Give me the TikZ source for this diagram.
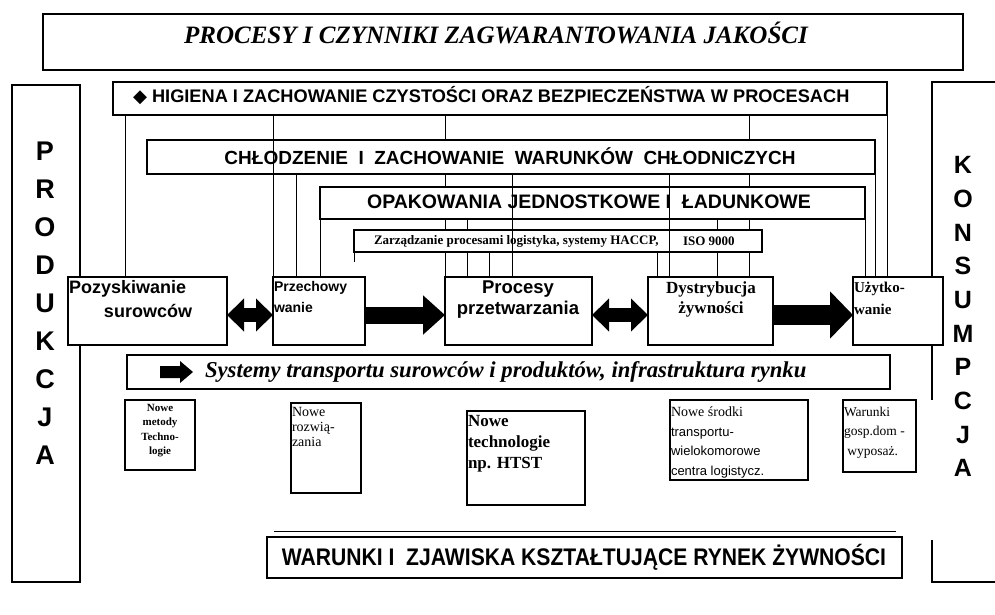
\documentclass[tikz,border=0pt]{standalone}
\usepackage{fontspec}
\setmainfont{Liberation Serif}
\setsansfont{Liberation Sans}
\newfontfamily\dejavu{DejaVu Sans}
\usepackage{graphicx}
\usetikzlibrary{arrows.meta}
\pgfdeclarelayer{bg}
\pgfsetlayers{bg,main}
\tikzset{
  box/.style={draw, line width=1.3pt, fill=white, inner sep=0pt, outer sep=0pt, anchor=north west},
  conn/.style={line width=1pt},
  lbl/.style={inner sep=0pt, outer sep=0pt},
  sfb/.style={font=\sffamily\bfseries\fontsize{#1}{#1}\selectfont},
  rmb/.style={font=\rmfamily\bfseries\fontsize{#1}{#1}\selectfont},
}
\begin{document}
\begin{tikzpicture}[x=1pt,y=-1pt]
\useasboundingbox (0,0) rectangle (995,614);

% side frames
\node[box, minimum width=68pt, minimum height=497pt] (prod) at (12,85) {};
\coordinate (konsA) at (1000,82);
\coordinate (konsB) at (932,82);
\coordinate (konsC) at (932,400);
\coordinate (konsD) at (932,540);
\coordinate (konsE) at (932,582);
\coordinate (konsF) at (1000,582);
\draw[line width=1.3pt] (konsA) -- (konsB) -- (konsC);
\draw[line width=1.3pt] (konsD) -- (konsE) -- (konsF);
\foreach \l [count=\i] in {P,R,O,D,U,K,C,J,A}
  \node[lbl, sfb=27] (prodl\i) at (45,{151+(\i-1)*38}) {\l};
\foreach \l [count=\i] in {K,O,N,S,U,M,P,C,J,A}
  \node[lbl, sfb=25] (konsl\i) at (963,{165+(\i-1)*33.7}) {\l};

% title
\node[box, minimum width=920pt, minimum height=56pt] (title) at (43,14) {};
\node[lbl, font=\rmfamily\bfseries\itshape\fontsize{25}{25}\selectfont] (titletxt) at (496,33) {PROCESY I CZYNNIKI ZAGWARANTOWANIA JAKOŚCI};

% bands
\node[box, minimum width=774pt, minimum height=33pt] (hig) at (113,82) {};
\node[lbl, sfb=18.2, anchor=west] (higtxt) at (133,96) {{\dejavu ◆} HIGIENA I ZACHOWANIE CZYSTOŚCI ORAZ BEZPIECZEŃSTWA W PROCESACH};
\node[box, minimum width=728pt, minimum height=34pt] (chl) at (147,140) {};
\node[lbl, sfb=19] (chltxt) at (510,156) {CHŁODZENIE\ \ I\ \ ZACHOWANIE\ \ WARUNKÓW\ \ CHŁODNICZYCH};
\node[box, minimum width=545pt, minimum height=32pt] (opa) at (320,187) {};
\node[lbl, sfb=19.5] (opatxt) at (589,202) {OPAKOWANIA JEDNOSTKOWE I\ \ ŁADUNKOWE};
\node[box, minimum width=408pt, minimum height=22pt] (zar) at (354,230) {};
\node[lbl, rmb=13, anchor=west] (zartxt) at (374,241) {Zarządzanie procesami logistyka, systemy HACCP,};
\node[lbl, rmb=13, anchor=west] (isotxt) at (683,241) {ISO 9000};

% process boxes
\node[box, minimum width=159pt, minimum height=68pt] (poz) at (68,277) {};
\node[box, minimum width=92pt, minimum height=68pt] (prz) at (273,277) {};
\node[box, minimum width=147pt, minimum height=68pt] (pro) at (445,277) {};
\node[box, minimum width=125pt, minimum height=68pt] (dys) at (648,277) {};
\node[box, minimum width=90pt, minimum height=68pt] (uzy) at (853,277) {};

\node[lbl, sfb=18, anchor=west] (poz1) at (69,289) {Pozyskiwanie};
\node[lbl, sfb=18] (poz2) at (148,311) {surowców};
\node[lbl, sfb=14, anchor=west] (prz1) at (274,288) {Przechowy};
\node[lbl, sfb=14, anchor=west] (prz2) at (274,307) {wanie};
\node[lbl, sfb=18.5] (pro1) at (518,289) {Procesy};
\node[lbl, sfb=18.5] (pro2) at (518,310) {przetwarzania};
\node[lbl, rmb=17] (dys1) at (711,289) {Dystrybucja};
\node[lbl, rmb=17] (dys2) at (711,309) {żywności};
\node[lbl, rmb=15, anchor=west] (uzy1) at (854,289) {Użytko-};
\node[lbl, rmb=15, anchor=west] (uzy2) at (854,309) {wanie};

% block arrows between process boxes
\draw[line width=14pt, {Triangle[length=17pt,width=32pt]}-{Triangle[length=17pt,width=32pt]}] ([yshift=-4pt]poz.east) -- ([yshift=-4pt]prz.west);
\draw[line width=17pt, -{Triangle[length=22pt,width=38pt]}] ([yshift=-4pt]prz.east) -- ([yshift=-4pt]pro.west);
\draw[line width=14pt, {Triangle[length=17pt,width=32pt]}-{Triangle[length=17pt,width=32pt]}] ([yshift=-4pt]pro.east) -- ([yshift=-4pt]dys.west);
\draw[line width=20pt, -{Triangle[length=23pt,width=46pt]}] ([yshift=-4pt]dys.east) -- ([yshift=-4pt]uzy.west);

% connector lines
\coordinate (xB) at (125,0);
\coordinate (xC) at (273.6,0);
\coordinate (xD) at (296,0);
\coordinate (xG) at (445.6,0);
\coordinate (xH) at (467,0);
\coordinate (xI) at (489,0);
\coordinate (xJ) at (512,0);
\coordinate (xK) at (657,0);
\coordinate (xL) at (669,0);
\coordinate (xM) at (717,0);
\coordinate (xN) at (749,0);
\coordinate (zarstub) at (354,262);
\begin{pgfonlayer}{bg}
\draw[conn] (hig.south -| xB) -- (poz.north -| xB);
\draw[conn] (chl.south -| xD) -- (prz.north -| xD);
\draw[conn] (opa.south west) -- (opa.south west |- prz.north);
\draw[conn] (zar.south west) -- (zarstub);
\draw[conn] (hig.south -| xG) -- (pro.north -| xG);
\draw[conn] (opa.south -| xH) -- (pro.north -| xH);
\draw[conn] (zar.south -| xI) -- (pro.north -| xI);
\draw[conn] (zar.south -| xK) -- (dys.north -| xK);
\draw[conn] (opa.south -| xM) -- (dys.north -| xM);
\draw[conn] (hig.south -| xN) -- (dys.north -| xN);
\draw[conn] (opa.south east) -- (opa.south east |- uzy.north);
\draw[conn] (chl.south east) -- (chl.south east |- uzy.north);
\draw[conn] (hig.south east) -- (hig.south east |- uzy.north);
\end{pgfonlayer}
\draw[conn] (hig.south -| xC) -- (prz.north -| xC);
\draw[conn] (chl.south -| xJ) -- (pro.north -| xJ);
\draw[conn] (chl.south -| xL) -- (dys.north -| xL);

% transport band
\node[box, minimum width=763pt, minimum height=34pt] (sys) at (127,355) {};
\coordinate (icA) at (160,366);
\fill[black] (icA) -- ++(20,0) -- ++(0,-5) -- ++(13,11) -- ++(-13,11) -- ++(0,-5) -- ++(-20,0) -- cycle;
\node[lbl, font=\rmfamily\bfseries\itshape\fontsize{22.7}{22.7}\selectfont, anchor=west] (systxt) at (205,372) {Systemy transportu surowców i produktów, infrastruktura rynku};

% bottom boxes
\node[box, minimum width=70pt, minimum height=70pt] (b1) at (125,400) {};
\node[lbl, align=center, anchor=north, font=\rmfamily\bfseries\fontsize{11}{14.5}\selectfont] (b1t) at (160,404) {Nowe\\metody\\Techno-\\logie};
\node[box, minimum width=70pt, minimum height=90pt] (b2) at (291,403) {};
\node[lbl, align=left, anchor=north west, font=\rmfamily\fontsize{14}{15}\selectfont] (b2t) at (292,407) {Nowe\\rozwią-\\zania};
\node[box, minimum width=118pt, minimum height=94pt] (b3) at (467,411) {};
\node[lbl, align=left, anchor=north west, font=\rmfamily\bfseries\fontsize{17}{21}\selectfont] (b3t) at (468,415) {Nowe\\technologie\\np. HTST};
\node[box, minimum width=138pt, minimum height=80pt] (b4) at (670,400) {};
\node[lbl, align=left, anchor=north west, font=\sffamily\fontsize{13}{19.5}\selectfont] (b4t) at (671,407) {{\rmfamily\fontsize{14}{19.5}\selectfont Nowe środki}\\transportu-\\wielokomorowe\\centra logistycz.};
\node[box, minimum width=73pt, minimum height=72pt] (b5) at (843,400) {};
\node[lbl, align=left, anchor=north west, font=\rmfamily\fontsize{13.5}{19.5}\selectfont] (b5t) at (844,407) {Warunki\\gosp.dom -\\ \ wyposaż.};

% bottom band
\node[box, line width=2.2pt, minimum width=635pt, minimum height=41pt] (war) at (267,537) {};
\coordinate (warL) at (274,531);
\coordinate (warR) at (896,531);
\draw[line width=0.8pt] (warL) -- (warR);
\node[lbl, sfb=24] (wartxt) at (584,557) {\scalebox{0.88}[1]{WARUNKI I\ \ ZJAWISKA KSZTAŁTUJĄCE RYNEK ŻYWNOŚCI}};
\end{tikzpicture}
\end{document}
